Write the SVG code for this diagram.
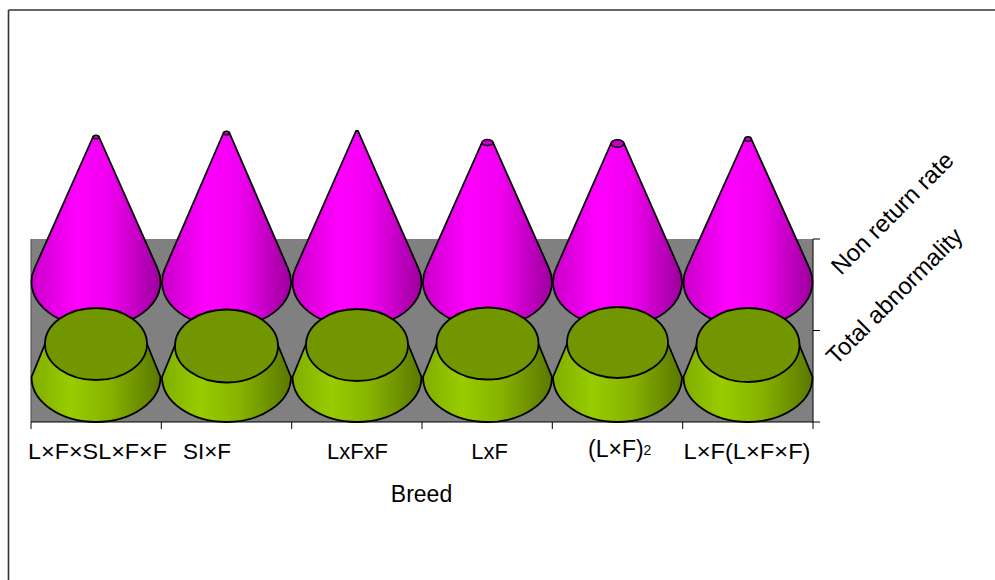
<svg xmlns="http://www.w3.org/2000/svg" width="995" height="580" viewBox="0 0 995 580">
<style>
.lbl{font-family:"Liberation Sans",Arial,sans-serif;font-size:22px;fill:#000}
.rot{font-size:24px}
.cone{fill:url(#mag);stroke:#000;stroke-width:1.8;stroke-linejoin:round}
.ctop{fill:#C400C4;stroke:#000;stroke-width:1.5}
.body{fill:url(#grn);stroke:#000;stroke-width:1.8;stroke-linejoin:round}
.gtop{fill:#719600;stroke:#000;stroke-width:1.8}
.ax{stroke:#000;stroke-width:1;fill:none}
</style>
<defs>
<linearGradient id="mag" x1="0" y1="0" x2="1" y2="0">
<stop offset="0" stop-color="#C800C8"/>
<stop offset="0.35" stop-color="#FF00FF"/>
<stop offset="0.6" stop-color="#F000F0"/>
<stop offset="1" stop-color="#9C009C"/>
</linearGradient>
<linearGradient id="grn" x1="0" y1="0" x2="1" y2="0">
<stop offset="0" stop-color="#80AD00"/>
<stop offset="0.3" stop-color="#99CC00"/>
<stop offset="0.6" stop-color="#87B300"/>
<stop offset="1" stop-color="#5A7800"/>
</linearGradient>
</defs>
<rect width="995" height="580" fill="#fff"/>
<g id="frame" stroke="#333" stroke-width="1.6">
<line x1="8.5" y1="10" x2="995" y2="10"/>
<line x1="8.5" y1="10" x2="8.5" y2="580"/>
</g>
<g id="wall">
<rect x="31" y="239" width="782" height="183" fill="#808080"/>
<line x1="31" y1="239" x2="31" y2="422" stroke="#4a4a4a" stroke-width="1"/>
</g>
<g id="connectors" class="ax">
<line x1="31" y1="422" x2="813" y2="422"/>
<line x1="813" y1="239" x2="813" y2="429"/>
<line x1="31" y1="422" x2="31" y2="429"/>
<line x1="161.3" y1="422" x2="161.3" y2="429"/>
<line x1="291.7" y1="422" x2="291.7" y2="429"/>
<line x1="422" y1="422" x2="422" y2="429"/>
<line x1="552.3" y1="422" x2="552.3" y2="429"/>
<line x1="682.7" y1="422" x2="682.7" y2="429"/>
<line x1="813" y1="239" x2="820" y2="239"/>
<line x1="813" y1="330.5" x2="820" y2="330.5"/>
<line x1="813" y1="422" x2="820" y2="422"/>
</g>
<g id="col1">
<path class="cone" d="M93 137 L34.7 268 A64.5 45 0 1 0 157.3 268 L99 137 Z"/>
<ellipse class="ctop" cx="96" cy="137" rx="3" ry="1.8"/>
<path class="body" d="M45 344 L31.5 377 A64.5 45 0 0 0 160.5 377 L147 344 Z"/>
<ellipse class="gtop" cx="96" cy="344" rx="51" ry="36"/>
</g>
<g id="col2">
<path class="cone" d="M223.5 133 L165.2 268 A64.5 45 0 1 0 287.8 268 L229.5 133 Z"/>
<ellipse class="ctop" cx="226.5" cy="133" rx="3" ry="1.8"/>
<path class="body" d="M175.5 344 L162 377 A64.5 45 0 0 0 291 377 L277.5 344 Z"/>
<ellipse class="gtop" cx="226.5" cy="346" rx="51.5" ry="36.5"/>
</g>
<g id="col3">
<path class="cone" d="M356 131 L295.7 268 A64.5 45 0 1 0 418.3 268 L358 131 Z"/>
<path class="body" d="M306 344 L292.5 377 A64.5 45 0 0 0 421.5 377 L408 344 Z"/>
<ellipse class="gtop" cx="357" cy="345" rx="51" ry="36"/>
</g>
<g id="col4">
<path class="cone" d="M482 142.5 L426.2 268 A64.5 45 0 1 0 548.8 268 L493 142.5 Z"/>
<ellipse class="ctop" cx="487.5" cy="142.5" rx="5.5" ry="3"/>
<path class="body" d="M436.5 344 L423 377 A64.5 45 0 0 0 552 377 L538.5 344 Z"/>
<ellipse class="gtop" cx="487.5" cy="343.5" rx="51" ry="36"/>
</g>
<g id="col5">
<path class="cone" d="M611 143.5 L556.2 268 A64.5 45 0 1 0 678.8 268 L624 143.5 Z"/>
<ellipse class="ctop" cx="617.5" cy="143.5" rx="6.5" ry="3.7"/>
<path class="body" d="M567 344 L553 377 A64.5 45 0 0 0 682 377 L668 344 Z"/>
<ellipse class="gtop" cx="617.5" cy="342.5" rx="50.5" ry="35.5"/>
</g>
<g id="col6">
<path class="cone" d="M744.7 139 L686.7 268 A64.5 45 0 1 0 809.3 268 L751.3 139 Z"/>
<ellipse class="ctop" cx="748" cy="139" rx="3.3" ry="2.2"/>
<path class="body" d="M697 344 L683.5 377 A64.5 45 0 0 0 812.5 377 L799 344 Z"/>
<ellipse class="gtop" cx="748" cy="345" rx="51.5" ry="37"/>
</g>
<g id="labels" class="lbl">
<text x="28" y="459" textLength="139" lengthAdjust="spacingAndGlyphs">L×F×SL×F×F</text>
<text x="183" y="459" textLength="48" lengthAdjust="spacingAndGlyphs">SI×F</text>
<text x="357.5" y="459" text-anchor="middle">LxFxF</text>
<text x="489.5" y="459" text-anchor="middle">LxF</text>
<text x="588" y="457" font-size="23">(L×F)<tspan font-size="14" dy="-2">2</tspan></text>
<text x="683.5" y="459" textLength="127" lengthAdjust="spacingAndGlyphs">L×F(L×F×F)</text>
<text x="421.5" y="502" text-anchor="middle" font-size="23">Breed</text>
<text class="rot" transform="translate(841,276) rotate(-45)">Non return rate</text>
<text class="rot" transform="translate(836,366) rotate(-45)">Total abnormality</text>
</g>
</svg>
